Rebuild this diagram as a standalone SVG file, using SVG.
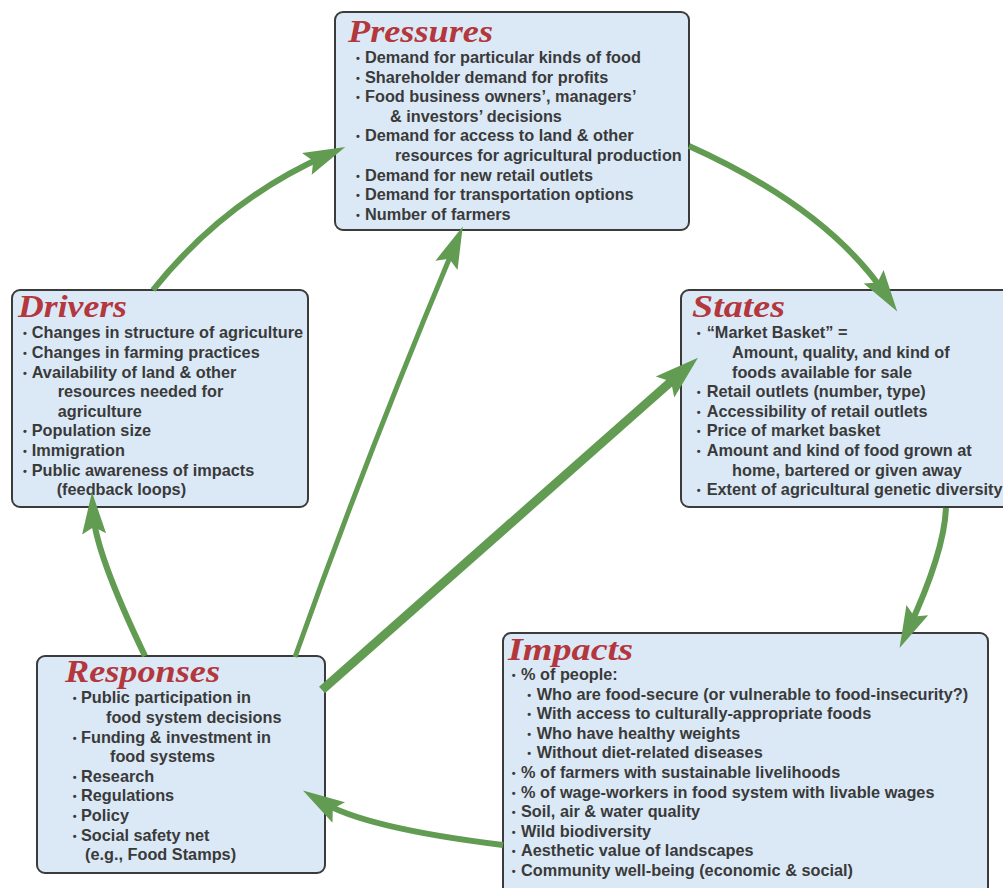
<svg xmlns="http://www.w3.org/2000/svg" width="1003" height="888" viewBox="0 0 1003 888">
<style>
.box{fill:#dbe9f7;stroke:#3b3b3b;stroke-width:2}
.ttl{font-family:"Liberation Serif",serif;font-weight:bold;font-style:italic;font-size:31px;fill:#b3373c}
.t{font-family:"Liberation Sans",Arial,sans-serif;font-weight:bold;font-size:16.3px;fill:#3a3a3a}
.b{font-size:11px}
.ar{fill:none;stroke:#629c52;stroke-width:6}
</style>
<defs>
<marker id="ah" markerUnits="userSpaceOnUse" viewBox="-25 -15 50 30" markerWidth="50" markerHeight="30" refX="0" refY="0" orient="auto"><path d="M20,0 L-22,-12 L-15,0 L-22,12 Z" fill="#629c52"/></marker>
<marker id="ahT" markerUnits="userSpaceOnUse" viewBox="-30 -18 55 36" markerWidth="55" markerHeight="36" refX="0" refY="0" orient="auto"><path d="M20,0 L-24,-14 L-16,0 L-24,14 Z" fill="#629c52"/></marker>
</defs>

<g id="pressures">
<rect class="box" x="335" y="12" width="354" height="218" rx="8"/>
<text class="ttl" x="348" y="42" textLength="145" lengthAdjust="spacingAndGlyphs">Pressures</text>
<text class="t" x="356" y="63"><tspan class="b" dy="-1">•</tspan><tspan x="365" dy="1">Demand for particular kinds of food</tspan></text>
<text class="t" x="356" y="82.6"><tspan class="b" dy="-1">•</tspan><tspan x="365" dy="1">Shareholder demand for profits</tspan></text>
<text class="t" x="356" y="102.2"><tspan class="b" dy="-1">•</tspan><tspan x="365" dy="1">Food business owners’, managers’</tspan></text>
<text class="t" x="390" y="121.8">&amp; investors’ decisions</text>
<text class="t" x="356" y="141.4"><tspan class="b" dy="-1">•</tspan><tspan x="365" dy="1">Demand for access to land &amp; other</tspan></text>
<text class="t" x="395" y="161">resources for agricultural production</text>
<text class="t" x="356" y="180.6"><tspan class="b" dy="-1">•</tspan><tspan x="365" dy="1">Demand for new retail outlets</tspan></text>
<text class="t" x="356" y="200.2"><tspan class="b" dy="-1">•</tspan><tspan x="365" dy="1">Demand for transportation options</tspan></text>
<text class="t" x="356" y="219.8"><tspan class="b" dy="-1">•</tspan><tspan x="365" dy="1">Number of farmers</tspan></text>
</g>

<g id="drivers">
<rect class="box" x="12" y="290" width="296" height="217" rx="8"/>
<text class="ttl" x="18" y="317" textLength="109" lengthAdjust="spacingAndGlyphs">Drivers</text>
<text class="t" x="23" y="338.3"><tspan class="b" dy="-1">•</tspan><tspan x="31.7" dy="1">Changes in structure of agriculture</tspan></text>
<text class="t" x="23" y="357.9"><tspan class="b" dy="-1">•</tspan><tspan x="31.7" dy="1">Changes in farming practices</tspan></text>
<text class="t" x="23" y="377.5"><tspan class="b" dy="-1">•</tspan><tspan x="31.7" dy="1">Availability of land &amp; other</tspan></text>
<text class="t" x="57.7" y="397.1">resources needed for</text>
<text class="t" x="57.7" y="416.7">agriculture</text>
<text class="t" x="23" y="436.3"><tspan class="b" dy="-1">•</tspan><tspan x="31.7" dy="1">Population size</tspan></text>
<text class="t" x="23" y="455.9"><tspan class="b" dy="-1">•</tspan><tspan x="31.7" dy="1">Immigration</tspan></text>
<text class="t" x="23" y="475.5"><tspan class="b" dy="-1">•</tspan><tspan x="31.7" dy="1">Public awareness of impacts</tspan></text>
<text class="t" x="56.7" y="495.1">(feedback loops)</text>
</g>

<g id="states">
<rect class="box" x="681" y="290" width="340" height="217" rx="8"/>
<text class="ttl" x="692" y="317" textLength="93" lengthAdjust="spacingAndGlyphs">States</text>
<text class="t" x="696.7" y="338.3"><tspan class="b" dy="-1">•</tspan><tspan x="706.7" dy="1">“Market Basket” =</tspan></text>
<text class="t" x="732" y="357.9">Amount, quality, and kind of</text>
<text class="t" x="732" y="377.5">foods available for sale</text>
<text class="t" x="696.7" y="397.1"><tspan class="b" dy="-1">•</tspan><tspan x="706.7" dy="1">Retail outlets (number, type)</tspan></text>
<text class="t" x="696.7" y="416.7"><tspan class="b" dy="-1">•</tspan><tspan x="706.7" dy="1">Accessibility of retail outlets</tspan></text>
<text class="t" x="696.7" y="436.3"><tspan class="b" dy="-1">•</tspan><tspan x="706.7" dy="1">Price of market basket</tspan></text>
<text class="t" x="696.7" y="455.9"><tspan class="b" dy="-1">•</tspan><tspan x="706.7" dy="1">Amount and kind of food grown at</tspan></text>
<text class="t" x="732" y="475.5">home, bartered or given away</text>
<text class="t" x="696.7" y="495.1"><tspan class="b" dy="-1">•</tspan><tspan x="706.7" dy="1">Extent of agricultural genetic diversity</tspan></text>
</g>

<g id="responses">
<rect class="box" x="37" y="656" width="288" height="217" rx="8"/>
<text class="ttl" x="65" y="682" textLength="155" lengthAdjust="spacingAndGlyphs">Responses</text>
<text class="t" x="72.7" y="703.3"><tspan class="b" dy="-1">•</tspan><tspan x="81" dy="1">Public participation in</tspan></text>
<text class="t" x="106" y="722.9">food system decisions</text>
<text class="t" x="72.7" y="742.5"><tspan class="b" dy="-1">•</tspan><tspan x="81" dy="1">Funding &amp; investment in</tspan></text>
<text class="t" x="110" y="762.1">food systems</text>
<text class="t" x="72.7" y="781.7"><tspan class="b" dy="-1">•</tspan><tspan x="81" dy="1">Research</tspan></text>
<text class="t" x="72.7" y="801.3"><tspan class="b" dy="-1">•</tspan><tspan x="81" dy="1">Regulations</tspan></text>
<text class="t" x="72.7" y="820.9"><tspan class="b" dy="-1">•</tspan><tspan x="81" dy="1">Policy</tspan></text>
<text class="t" x="72.7" y="840.5"><tspan class="b" dy="-1">•</tspan><tspan x="81" dy="1">Social safety net</tspan></text>
<text class="t" x="85" y="860.1">(e.g., Food Stamps)</text>
</g>

<g id="impacts">
<rect class="box" x="503" y="633" width="485" height="280" rx="8"/>
<text class="ttl" x="508" y="660" textLength="125" lengthAdjust="spacingAndGlyphs">Impacts</text>
<text class="t" x="511.7" y="680"><tspan class="b" dy="-1">•</tspan><tspan x="521" dy="1">% of people:</tspan></text>
<text class="t" x="527.3" y="699.6"><tspan class="b" dy="-1">•</tspan><tspan x="536.7" dy="1">Who are food-secure (or vulnerable to food-insecurity?)</tspan></text>
<text class="t" x="527.3" y="719.2"><tspan class="b" dy="-1">•</tspan><tspan x="536.7" dy="1">With access to culturally-appropriate foods</tspan></text>
<text class="t" x="527.3" y="738.8"><tspan class="b" dy="-1">•</tspan><tspan x="536.7" dy="1">Who have healthy weights</tspan></text>
<text class="t" x="527.3" y="758.4"><tspan class="b" dy="-1">•</tspan><tspan x="536.7" dy="1">Without diet-related diseases</tspan></text>
<text class="t" x="511.7" y="778"><tspan class="b" dy="-1">•</tspan><tspan x="521" dy="1">% of farmers with sustainable livelihoods</tspan></text>
<text class="t" x="511.7" y="797.6"><tspan class="b" dy="-1">•</tspan><tspan x="521" dy="1">% of wage-workers in food system with livable wages</tspan></text>
<text class="t" x="511.7" y="817.2"><tspan class="b" dy="-1">•</tspan><tspan x="521" dy="1">Soil, air &amp; water quality</tspan></text>
<text class="t" x="511.7" y="836.8"><tspan class="b" dy="-1">•</tspan><tspan x="521" dy="1">Wild biodiversity</tspan></text>
<text class="t" x="511.7" y="856.4"><tspan class="b" dy="-1">•</tspan><tspan x="521" dy="1">Aesthetic value of landscapes</tspan></text>
<text class="t" x="511.7" y="876"><tspan class="b" dy="-1">•</tspan><tspan x="521" dy="1">Community well-being (economic &amp; social)</tspan></text>
</g>

<g id="connectors">
<path class="ar" d="M153,290 Q225,200 327,155" marker-end="url(#ah)"/>
<path class="ar" d="M689,146 Q827,208 886,295" marker-end="url(#ah)"/>
<path class="ar" d="M946,508 Q944,553 908,630" marker-end="url(#ah)"/>
<path class="ar" d="M503,845 Q364,828 320,801" marker-end="url(#ah)"/>
<path class="ar" d="M145,656 Q95,552 93,512" marker-end="url(#ah)"/>
<path class="ar" style="stroke-width:5" d="M295,657 Q368,452 455,245" marker-end="url(#ah)"/>
<path class="ar" style="stroke-width:9" d="M322,690 L683,371" marker-end="url(#ahT)"/>
</g>
</svg>
